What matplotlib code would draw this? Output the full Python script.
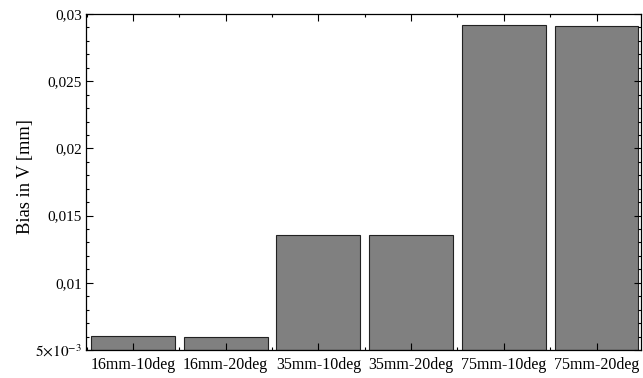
import matplotlib
matplotlib.use("Agg")
import matplotlib.pyplot as plt
from matplotlib.ticker import FixedLocator, FuncFormatter

plt.rcParams["font.family"] = ["Liberation Serif", "DejaVu Serif"]
plt.rcParams["mathtext.fontset"] = "stix"

categories = ["16mm-10deg", "16mm-20deg", "35mm-10deg", "35mm-20deg", "75mm-10deg", "75mm-20deg"]
bias_v = [0.00602, 0.00594, 0.01354, 0.01356, 0.02918, 0.02912]
y_major = [0.005, 0.01, 0.015, 0.02, 0.025, 0.03]


def _fmt(value, _pos):
    if abs(value - 0.005) < 1e-9:
        return r"$5{\times}10^{-3}$"
    return f"{value:g}".replace(".", ",")


fig = plt.figure(figsize=(6.43, 3.78), dpi=100)
ax = fig.add_axes([0.1337, 0.0741, 0.8632, 0.8889])

xs = list(range(len(categories)))
ax.bar(xs, [v - 0.005 for v in bias_v], bottom=0.005, width=0.905,
       color="#808080", edgecolor="#222222", linewidth=0.8)

ax.set_xlim(-0.507, 5.48)
ax.set_ylim(0.005, 0.03)

ax.set_xticks(xs)
ax.set_xticklabels(categories)
ax.xaxis.set_minor_locator(FixedLocator([i + 0.5 for i in range(-1, len(categories))]))
ax.yaxis.set_major_locator(FixedLocator(y_major))
ax.yaxis.set_minor_locator(FixedLocator([0.005 + 0.001 * i for i in range(26)]))
ax.yaxis.set_major_formatter(FuncFormatter(_fmt))

ax.tick_params(which="both", direction="in", top=True, right=True, width=0.8)
ax.tick_params(axis="y", labelsize=11, pad=3)
ax.tick_params(axis="x", labelsize=11.5, pad=5)
ax.tick_params(which="major", length=5)
ax.tick_params(which="minor", length=2.5)
ax.tick_params(axis="x", which="minor", length=2)

for spine in ax.spines.values():
    spine.set_linewidth(0.9)

ax.set_ylabel("Bias in V [mm]", fontsize=13.3)
ax.yaxis.set_label_coords(-0.094, 0.515)

fig.savefig("out.png", dpi=100)
